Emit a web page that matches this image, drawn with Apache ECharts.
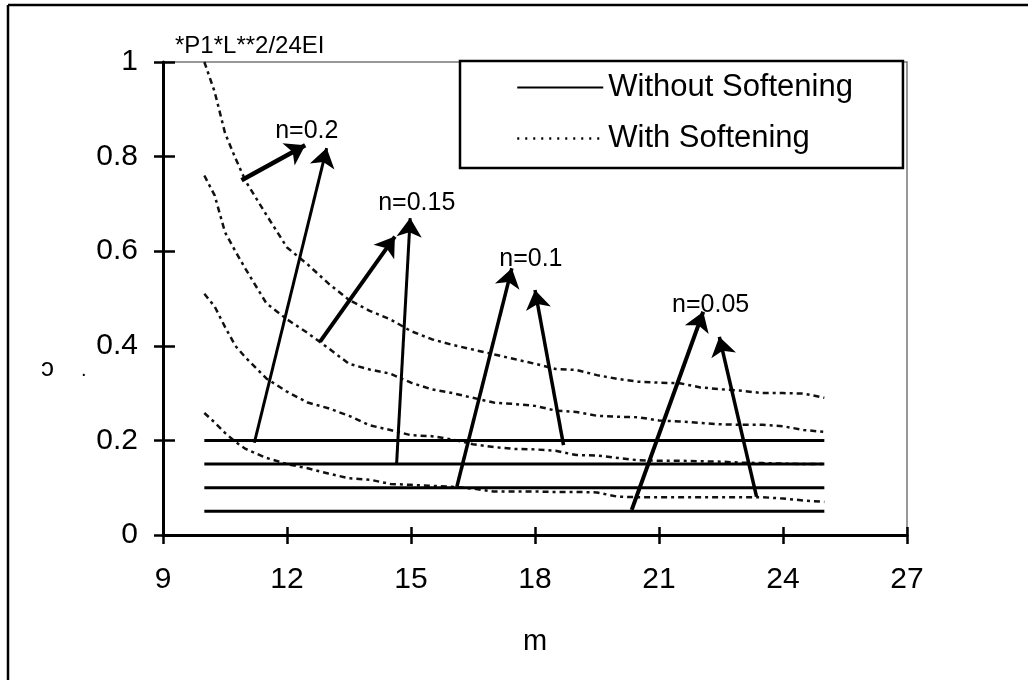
<!DOCTYPE html>
<html>
<head>
<meta charset="utf-8">
<script src="https://cdn.jsdelivr.net/npm/echarts@6/dist/echarts.min.js"></script>
<style>
  html, body { margin: 0; padding: 0; background: #fff; }
  #chart { width: 1028px; height: 682px; }
</style>
</head>
<body>
<div id="chart"></div>
<script>
// Span parameter m (x axis)
const m = [10, 10.25, 10.5, 10.75, 11, 11.5, 12, 12.5, 13, 13.5, 14, 14.5, 15, 15.5, 16, 16.5,
           17, 17.5, 18, 18.5, 19, 19.5, 20, 20.5, 21, 21.5, 22, 22.5, 23, 23.5, 24, 24.5, 25];

// With softening, one curve per n
const soft020 = [1.0, 0.937, 0.85, 0.797, 0.748, 0.677, 0.608, 0.572, 0.532, 0.497, 0.474, 0.456, 0.431, 0.414, 0.402, 0.392,
                 0.382, 0.372, 0.362, 0.351, 0.349, 0.338, 0.330, 0.324, 0.322, 0.321, 0.312, 0.308, 0.305, 0.300, 0.300, 0.299, 0.290];
const soft015 = [0.76, 0.718, 0.64, 0.600, 0.562, 0.490, 0.456, 0.427, 0.395, 0.362, 0.350, 0.341, 0.322, 0.308, 0.300, 0.290,
                 0.280, 0.277, 0.273, 0.263, 0.260, 0.252, 0.250, 0.249, 0.242, 0.240, 0.237, 0.234, 0.233, 0.233, 0.230, 0.222, 0.218];
const soft010 = [0.51, 0.483, 0.44, 0.400, 0.375, 0.331, 0.303, 0.280, 0.268, 0.252, 0.232, 0.222, 0.211, 0.209, 0.202, 0.192,
                 0.186, 0.182, 0.181, 0.178, 0.169, 0.168, 0.163, 0.158, 0.157, 0.157, 0.156, 0.155, 0.153, 0.152, 0.151, 0.150, 0.150];
const soft005 = [0.258, 0.238, 0.216, 0.197, 0.182, 0.163, 0.150, 0.141, 0.130, 0.120, 0.117, 0.108, 0.106, 0.104, 0.102, 0.098,
                 0.092, 0.092, 0.092, 0.091, 0.091, 0.090, 0.081, 0.080, 0.080, 0.080, 0.080, 0.080, 0.080, 0.080, 0.077, 0.073, 0.070];

// Without softening: constant levels equal to n over the same span
const nLevels = [0.2, 0.15, 0.1, 0.05];
const flatSpan = [10, 25];

// Axis ticks
const xTicks = [9, 12, 15, 18, 21, 24, 27];
const yTicks = [0, 0.2, 0.4, 0.6, 0.8, 1];

// Pointer arrows (data units): [fromM, fromJ, toM, toJ]
const arrows = [
  [10.90, 0.750, 12.44, 0.824],
  [11.21, 0.195, 12.96, 0.818],
  [12.80, 0.409, 14.61, 0.631],
  [14.65, 0.148, 14.98, 0.670],
  [16.11, 0.102, 17.44, 0.564],
  [18.69, 0.190, 18.00, 0.518],
  [20.34, 0.053, 22.07, 0.472],
  [23.36, 0.081, 22.46, 0.419]
];
const arrowWidths = [4.5, 3, 4, 3, 3.5, 3.5, 4, 3.5];

// Curve labels
const noteText = ['n=0.2', 'n=0.15', 'n=0.1', 'n=0.05'];
const noteM = [12.48, 15.14, 17.90, 22.25];
const noteJ = [0.854, 0.701, 0.583, 0.486];

const FONT = '"Liberation Sans", Arial, sans-serif';
const chart = echarts.init(document.getElementById('chart'), null, { renderer: 'canvas' });

const series = [];
nLevels.forEach(function (lv) {
  series.push({
    name: 'Without Softening', type: 'line', symbol: 'none', silent: true,
    color: '#000', itemStyle: { color: '#000' },
    data: flatSpan.map(function (x) { return [x, lv]; }),
    lineStyle: { color: '#000', width: 3 }, z: 3
  });
});
[soft020, soft015, soft010, soft005].forEach(function (arr) {
  series.push({
    name: 'With Softening', type: 'line', symbol: 'none', silent: true,
    color: '#000', itemStyle: { color: '#000' },
    data: m.map(function (x, i) { return [x, arr[i]]; }),
    lineStyle: { color: '#111', width: 2.5, type: [6, 4, 3, 4] }, z: 2
  });
});
series.push({
  type: 'lines', coordinateSystem: 'cartesian2d', silent: true, z: 5,
  symbol: ['none', 'arrow'], symbolSize: 19,
  data: arrows.map(function (a, i) {
    return { coords: [[a[0], a[1]], [a[2], a[3]]], lineStyle: { width: arrowWidths[i] } };
  }),
  lineStyle: { color: '#000', opacity: 1, curveness: 0 }
});
series.push({
  type: 'scatter', symbolSize: 0, silent: true, z: 6,
  itemStyle: { opacity: 1, color: '#000' },
  data: noteText.map(function (t, i) { return { value: [noteM[i], noteJ[i]], text: t }; }),
  label: {
    show: true, position: 'inside', color: '#000', opacity: 1, fontSize: 25, fontFamily: FONT,
    textBorderWidth: 0, textBorderColor: 'transparent',
    formatter: function (p) { return p.data.text; }
  }
});

function tickAxis(isX, inside, len) {
  return {
    type: 'value',
    min: isX ? xTicks[0] : yTicks[0],
    max: isX ? xTicks[xTicks.length - 1] : yTicks[yTicks.length - 1],
    interval: isX ? 3 : 0.2,
    position: isX ? 'bottom' : 'left',
    splitLine: { show: false },
    axisTick: { show: true, inside: inside, length: len, lineStyle: { color: '#000', width: 2.5 } },
    axisLine: { show: !inside, onZero: false, lineStyle: { color: '#000', width: 3 } },
    axisLabel: { show: !inside, color: '#000', fontSize: 30, fontFamily: FONT, margin: isX ? 30 : 25 }
  };
}

const xMain = tickAxis(true, false, 9);
xMain.name = 'm';
xMain.nameLocation = 'middle';
xMain.nameGap = 92;
xMain.nameTextStyle = { color: '#000', fontSize: 29, fontFamily: FONT };

chart.setOption({
  animation: false,
  backgroundColor: '#fff',
  title: {
    text: '*P1*L**2/24EI', left: 170, top: 29,
    textStyle: { color: '#000', fontSize: 24, fontWeight: 'normal', fontFamily: FONT }
  },
  grid: {
    left: 163, right: 121, top: 62, bottom: 147, containLabel: false,
    show: true, borderColor: '#777', borderWidth: 1.5, backgroundColor: '#fff'
  },
  legend: {
    data: [
      { name: 'Without Softening', lineStyle: { width: 2, type: 'solid', color: '#000' } },
      { name: 'With Softening', lineStyle: { width: 2.5, type: [2, 6], color: '#000' } }
    ],
    orient: 'vertical', left: 460, top: 61,
    padding: [11, 50, 14, 56], itemGap: 20, itemWidth: 86, itemHeight: 1,
    itemStyle: { opacity: 0 },
    borderColor: '#000', borderWidth: 2.5, backgroundColor: '#fff',
    textStyle: { color: '#000', fontSize: 31, fontFamily: FONT },
    selectedMode: false
  },
  xAxis: [xMain, tickAxis(true, true, 8)],
  yAxis: [tickAxis(false, false, 9), tickAxis(false, true, 12)],
  graphic: [
    { type: 'line', shape: { x1: 8, y1: 5, x2: 8, y2: 680 }, style: { stroke: '#000', lineWidth: 2.5 } },
    { type: 'line', shape: { x1: 8, y1: 5, x2: 1028, y2: 5 }, style: { stroke: '#000', lineWidth: 2.5 } },
    { type: 'text', left: 41, top: 356, style: { text: 'ɔ', fontSize: 26, fill: '#000', fontFamily: FONT } },
    { type: 'text', left: 81, top: 360, style: { text: '.', fontSize: 20, fill: '#000', fontFamily: FONT } }
  ],
  series: series
});
</script>
</body>
</html>
